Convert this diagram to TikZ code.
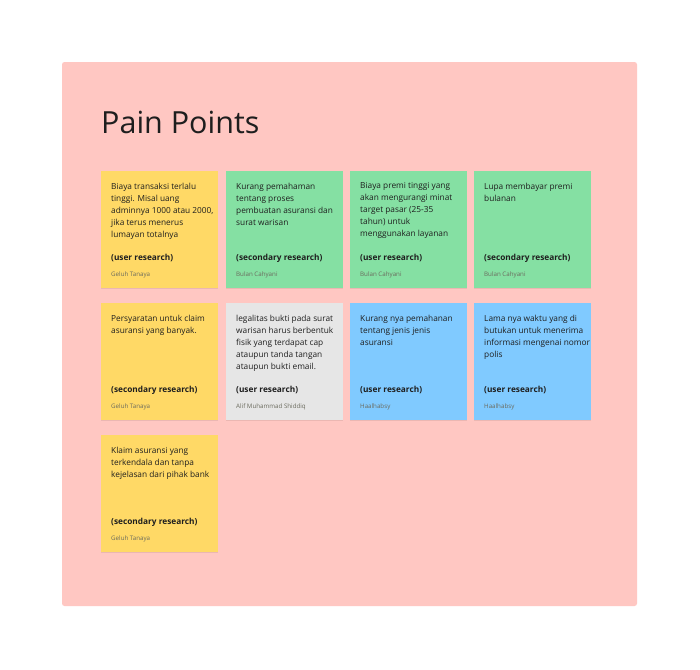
\documentclass[tikz,border=0pt]{standalone}
\usepackage{fontspec}
\setmainfont{Open Sans}
\usetikzlibrary{shadows, positioning}
\definecolor{panelpink}{HTML}{FFC7C2}
\definecolor{noteyellow}{HTML}{FFD966}
\definecolor{notegreen}{HTML}{85E0A3}
\definecolor{noteblue}{HTML}{80CAFF}
\definecolor{notegray}{HTML}{E6E6E6}
\definecolor{inkdark}{HTML}{1E1E1E}
\definecolor{inkname}{HTML}{6B6B5E}

\tikzset{
  note/.style={draw=none, anchor=north west, minimum width=117pt, minimum height=117pt, inner sep=0pt,
    drop shadow={shadow xshift=0pt, shadow yshift=-1pt, opacity=0.08, fill=black}},
  notebody/.style={anchor=north west, inner sep=0pt, align=left, text=inkdark,
    font=\fontsize{8.3}{12}\selectfont},
  notetag/.style={anchor=base west, inner sep=0pt, text=inkdark, font=\fontsize{8.3}{10}\selectfont\bfseries},
  noteauthor/.style={anchor=base west, inner sep=0pt, text=inkname, font=\fontsize{6.2}{7}\selectfont}
}

% one sticky note: name, x, y, colour, body, tag, author
\newcommand{\stickynote}[7]{%
  \node[note, fill=#4] (#1) at (#2,#3) {};
  \node[notebody] (#1-body) at ([xshift=10pt, yshift=-11.5pt]#1.north west) {#5};
  \node[notetag] (#1-tag) at ([xshift=10pt, yshift=-89pt]#1.north west) {#6};
  \node[noteauthor] (#1-author) at ([xshift=10pt, yshift=-105pt]#1.north west) {#7};
}

\begin{document}
\begin{tikzpicture}[x=1pt, y=-1pt]
\useasboundingbox (0,0) rectangle (700,669);
\fill[white] (0,0) rectangle (700,669);

% board
\fill[panelpink, rounded corners=2.5pt] (62,62) rectangle (637,606);
\node[anchor=base west, inner sep=0pt, text=inkdark, font=\fontsize{30.5}{36}\selectfont] (title) at (101,133) {Pain Points};

% row 1
\stickynote{biaya}{101}{171}{noteyellow}{Biaya transaksi terlalu\\tinggi. Misal uang\\adminnya 1000 atau 2000,\\jika terus menerus\\lumayan totalnya}{(user research)}{Geluh Tanaya}
\stickynote{pemahaman}{226}{171}{notegreen}{Kurang pemahaman\\tentang proses\\pembuatan asuransi dan\\surat warisan}{(secondary research)}{Bulan Cahyani}
\stickynote{premi}{350}{171}{notegreen}{Biaya premi tinggi yang\\akan mengurangi minat\\target pasar (25-35\\tahun) untuk\\menggunakan layanan}{(user research)}{Bulan Cahyani}
\stickynote{lupa}{474}{171}{notegreen}{Lupa membayar premi\\bulanan}{(secondary research)}{Bulan Cahyani}

% row 2
\stickynote{syarat}{101}{303}{noteyellow}{Persyaratan untuk claim\\asuransi yang banyak.}{(secondary research)}{Geluh Tanaya}
\stickynote{legal}{226}{303}{notegray}{legalitas bukti pada surat\\warisan harus berbentuk\\fisik yang terdapat cap\\ataupun tanda tangan\\ataupun bukti email.}{(user research)}{Alif Muhammad Shiddiq}
\stickynote{jenis}{350}{303}{noteblue}{Kurang nya pemahanan\\tentang jenis jenis\\asuransi}{(user research)}{Haalhabsy}
\stickynote{waktu}{474}{303}{noteblue}{Lama nya waktu yang di\\butukan untuk menerima\\informasi mengenai nomor\\polis}{(user research)}{Haalhabsy}

% row 3
\stickynote{klaim}{101}{435}{noteyellow}{Klaim asuransi yang\\terkendala dan tanpa\\kejelasan dari pihak bank}{(secondary research)}{Geluh Tanaya}
\end{tikzpicture}
\end{document}
